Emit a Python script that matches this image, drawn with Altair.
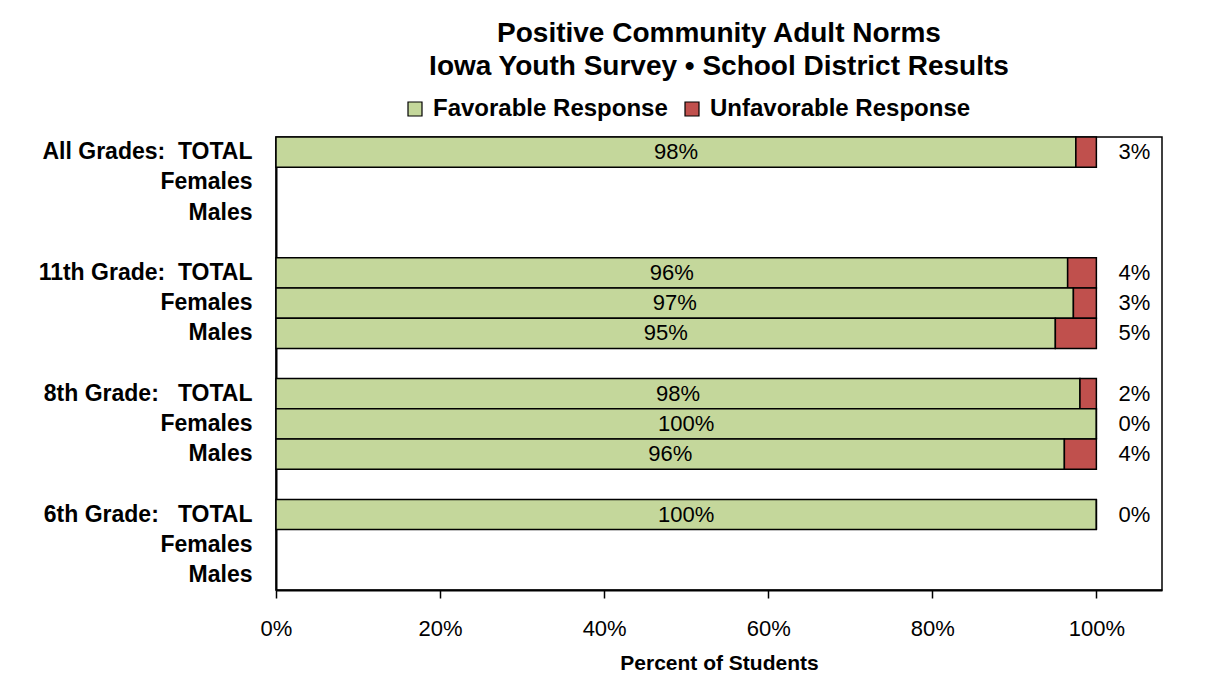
import json
import altair as alt
import pandas as pd

FONT = "Liberation Sans"

row_labels = [
    "All Grades:\u00a0 TOTAL", "Females", "Males", "",
    "11th Grade:\u00a0 TOTAL", "Females", "Males", "",
    "8th Grade:\u00a0\u00a0 TOTAL", "Females", "Males", "",
    "6th Grade:\u00a0\u00a0 TOTAL", "Females", "Males",
]
favorable = [97.5, None, None, None, 96.5, 97.2, 95.0, None, 98.0, 100.0, 96.1, None, 100.0, None, None]
unfavorable = [2.5, None, None, None, 3.5, 2.8, 5.0, None, 2.0, 0.0, 3.9, None, 0.0, None, None]
fav_text = ["98%", "", "", "", "96%", "97%", "95%", "", "98%", "100%", "96%", "", "100%", "", ""]
unfav_text = ["3%", "", "", "", "4%", "3%", "5%", "", "2%", "0%", "4%", "", "0%", "", ""]
series = ["Favorable Response", "Unfavorable Response"]
colors = ["#C4D79B", "#C0504D"]
tick_values = [0, 20, 40, 60, 80, 100]

bar_rows = []
label_rows = []
for i in range(len(row_labels)):
    if favorable[i] is None:
        continue
    bar_rows.append({"row": i, "series": series[0], "value": favorable[i], "ord": 0})
    bar_rows.append({"row": i, "series": series[1], "value": unfavorable[i], "ord": 1})
    label_rows.append({"row": i, "fav": favorable[i], "unfav": unfavorable[i],
                       "fav_text": fav_text[i], "unfav_text": unfav_text[i]})
bars_df = pd.DataFrame(bar_rows)
labels_df = pd.DataFrame(label_rows)

label_expr = json.dumps(row_labels) + "[datum.value]"

y_scale = alt.Scale(domain=list(range(len(row_labels))), paddingInner=0, paddingOuter=0)
x_scale = alt.Scale(domain=[0, 108], nice=False)

bars = alt.Chart(bars_df).mark_bar(stroke="black", strokeWidth=1.5).encode(
    y=alt.Y("row:O", scale=y_scale, title=None,
            axis=alt.Axis(labelExpr=label_expr, ticks=False, labelPadding=24, labelLimit=400,
                          labelFont=FONT, labelFontSize=23, labelFontWeight="bold",
                          labelColor="black", domainColor="black", domainWidth=2)),
    x=alt.X("value:Q", stack="zero", scale=x_scale, title="Percent of Students",
            axis=alt.Axis(values=tick_values, labelExpr="datum.value + '%'", grid=False,
                          labelFlush=False,
                          tickSize=8, tickColor="black", tickWidth=1.5,
                          labelPadding=20, labelFont=FONT, labelFontSize=22, labelColor="black",
                          domainColor="black", domainWidth=2,
                          titleFont=FONT, titleFontSize=21, titleFontWeight="bold",
                          titleColor="black", titlePadding=13)),
    order=alt.Order("ord:Q"),
    color=alt.Color("series:N", scale=alt.Scale(domain=series, range=colors),
                    legend=alt.Legend(title=None, orient="none", direction="horizontal",
                                      legendX=127, legendY=-40, labelLimit=400,
                                      symbolType="square", symbolSize=196,
                                      symbolStrokeColor="black", symbolStrokeWidth=1.2,
                                      symbolOpacity=1,
                                      labelFont=FONT, labelFontSize=24, labelFontWeight="bold",
                                      labelColor="black", labelOffset=6, columnPadding=12)),
)

fav_labels = alt.Chart(labels_df).transform_calculate(
    mid="datum.fav / 2"
).mark_text(font=FONT, fontSize=22, color="black", align="center", baseline="middle").encode(
    y=alt.Y("row:O", scale=y_scale),
    x=alt.X("mid:Q", scale=x_scale),
    text="fav_text:N",
)

unfav_labels = alt.Chart(labels_df).transform_calculate(
    total="datum.fav + datum.unfav"
).mark_text(font=FONT, fontSize=22, color="black", align="center", baseline="middle", dx=38).encode(
    y=alt.Y("row:O", scale=y_scale),
    x=alt.X("total:Q", scale=x_scale),
    text="unfav_text:N",
)

chart = alt.layer(bars, fav_labels, unfav_labels).properties(
    width=886,
    height=453,
    background="white",
    autosize=alt.AutoSizeParams(type="none"),
    padding={"left": 268, "top": 129, "right": 36, "bottom": 83},
    title=alt.Title(
        ["Positive Community Adult Norms", "Iowa Youth Survey \u2022 School District Results"],
        font=FONT, fontSize=28, fontWeight="bold", color="black",
        anchor="middle", lineHeight=33, offset=16,
    ),
).configure_view(stroke="black", strokeWidth=1.5)

chart.save("out.html", embed_options={"renderer": "svg", "actions": False})
